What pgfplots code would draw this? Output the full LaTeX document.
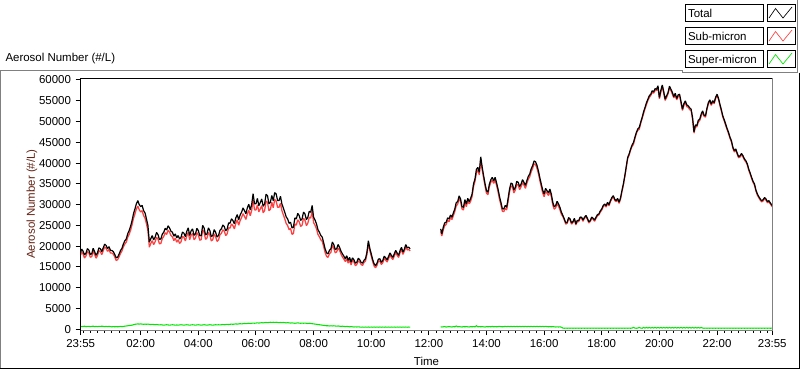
\documentclass[border=0pt]{standalone}
\usepackage{fontspec}
\setmainfont{Liberation Sans}
\usepackage{pgfplots}
\usepackage{pgfplotstable}
\pgfplotsset{compat=1.18}
\definecolor{subred}{RGB}{255,64,64}
\definecolor{supgreen}{RGB}{0,230,0}
\definecolor{labbrown}{RGB}{100,35,20}
\definecolor{framegray}{RGB}{128,128,128}

\pgfplotstableread{
t tot sub sup
-0.083 18560 17860 700
-0.05 19300 18650 650
0.00 18800 18100 700
0.05 17900 17150 750
0.10 18300 17650 650
0.15 19400 18700 700
0.20 19100 18400 700
0.25 18000 17350 650
0.30 18160 17460 700
0.35 19500 18750 750
0.40 18700 18050 650
0.45 17800 17100 700
0.50 18400 17750 650
0.55 19600 18900 700
0.60 19360 18660 700
0.65 18700 17950 750
0.70 19600 18900 700
0.75 20500 19850 650
0.80 20160 19460 700
0.85 19400 18750 650
0.90 19900 19200 700
0.95 19000 18350 650
1.00 18960 18360 600
1.05 18700 18050 650
1.10 18000 17400 600
1.15 17200 16550 650
1.20 17360 16760 600
1.25 18100 17450 650
1.30 18960 18260 700
1.35 19500 18850 650
1.40 20560 19860 700
1.45 21300 20550 750
1.50 21760 20960 800
1.55 23000 22150 850
1.60 23760 22860 900
1.65 24800 23850 950
1.70 26160 25160 1000
1.75 27800 26700 1100
1.80 28960 27760 1200
1.85 30200 28950 1250
1.90 30960 29660 1300
1.95 30000 28750 1250
2.00 29520 28220 1300
2.05 29800 28550 1250
2.10 28560 27360 1200
2.15 28000 26750 1250
2.20 26560 25360 1200
2.25 25000 23750 1250
2.30 20960 19760 1200
2.35 21800 20650 1150
2.40 22560 21360 1200
2.45 21500 20350 1150
2.50 22160 21060 1100
2.55 23300 22150 1150
2.60 22800 21700 1100
2.65 21600 20550 1050
2.70 21760 20660 1100
2.75 22900 21850 1050
2.80 23360 22360 1000
2.85 24300 23250 1050
2.90 23920 22820 1100
2.95 24900 23850 1050
3.00 24400 23400 1000
3.05 23600 22550 1050
3.10 23360 22260 1100
3.15 22400 21350 1050
3.20 22960 21960 1000
3.25 22000 20950 1050
3.30 22560 21560 1000
3.35 21700 20650 1050
3.40 22160 21060 1100
3.45 23400 22350 1050
3.50 23120 22120 1000
3.55 22300 21250 1050
3.60 23600 22500 1100
3.65 24400 23350 1050
3.70 22560 21560 1000
3.75 23700 22650 1050
3.80 24160 23060 1100
3.85 22600 21550 1050
3.90 22960 21960 1000
3.95 24300 23250 1050
4.00 23760 22660 1100
4.05 22500 21450 1050
4.10 22560 21560 1000
4.15 25000 23950 1050
4.20 24400 23300 1100
4.25 22700 21650 1050
4.30 22960 21960 1000
4.35 24400 23350 1050
4.40 23760 22660 1100
4.45 22300 21250 1050
4.50 22560 21560 1000
4.55 24000 22950 1050
4.60 23360 22260 1100
4.65 22200 21150 1050
4.70 22560 21460 1100
4.75 23800 22750 1050
4.80 24160 23060 1100
4.85 25100 23950 1150
4.90 24720 23620 1100
4.95 23700 22550 1150
5.00 24160 22960 1200
5.05 25600 24450 1150
5.10 25520 24320 1200
5.15 26600 25350 1250
5.20 26160 24960 1200
5.25 25400 24150 1250
5.30 26800 25500 1300
5.35 27600 26350 1250
5.40 26320 25020 1300
5.45 27500 26150 1350
5.50 28160 26860 1300
5.55 29200 27850 1350
5.60 28560 27160 1400
5.65 27800 26450 1350
5.70 29200 27800 1400
5.75 30100 28650 1450
5.80 28720 27320 1400
5.85 30000 28550 1450
5.90 32600 31100 1500
5.95 30200 28750 1450
6.00 30200 28700 1500
6.05 31500 29950 1550
6.10 29760 28260 1500
6.15 30500 28950 1550
6.20 31360 29760 1600
6.25 29600 28050 1550
6.30 30160 28560 1600
6.35 32500 30850 1650
6.40 32160 30560 1600
6.45 30200 28550 1650
6.50 30560 28860 1700
6.55 32200 30550 1650
6.60 30960 29260 1700
6.65 32900 31250 1650
6.70 32560 30860 1700
6.75 31000 29350 1650
6.80 30960 29360 1600
6.85 32000 30350 1650
6.90 30160 28560 1600
6.95 29200 27550 1650
7.00 28160 26560 1600
7.05 27000 25450 1550
7.10 26560 24960 1600
7.15 25500 23950 1550
7.20 25760 24260 1500
7.25 24400 22850 1550
7.30 24560 23060 1500
7.35 26800 25350 1450
7.40 26560 25060 1500
7.45 27900 26350 1550
7.50 27360 25860 1500
7.55 26200 24750 1450
7.60 26560 25060 1500
7.65 28200 26750 1450
7.70 27760 26260 1500
7.75 26400 24950 1450
7.80 26960 25560 1400
7.85 28400 26950 1450
7.90 28160 26760 1400
7.95 29800 28450 1350
8.00 26960 25660 1300
8.05 26300 25050 1250
8.10 25360 24160 1200
8.15 24000 22850 1150
8.20 23360 22260 1100
8.25 22600 21550 1050
8.30 22160 21160 1000
8.35 20800 19850 950
8.40 19360 18460 900
8.45 18400 17550 850
8.50 18160 17310 850
8.55 19000 18200 800
8.60 19360 18510 850
8.65 21000 20200 800
8.70 20400 19550 850
8.75 19200 18400 800
8.80 19360 18610 750
8.85 20400 19600 800
8.90 19760 19010 750
8.95 18800 18100 700
9.00 18160 17410 750
9.05 17600 16900 700
9.10 16960 16310 650
9.15 17700 17000 700
9.20 16560 15910 650
9.25 17300 16700 600
9.30 16160 15510 650
9.35 17200 16600 600
9.40 16720 16170 550
9.45 15900 15300 600
9.50 16160 15610 550
9.55 17100 16500 600
9.60 16720 16170 550
9.65 16100 15600 500
9.70 15920 15370 550
9.75 16600 16100 500
9.80 16960 16410 550
9.85 18500 18000 500
9.90 21300 20750 550
9.95 19500 19000 500
10.00 18160 17610 550
10.05 16800 16300 500
10.10 15760 15210 550
10.15 15300 14800 500
10.20 15920 15370 550
10.25 16900 16400 500
10.30 16960 16410 550
10.35 16100 15600 500
10.40 16560 16010 550
10.45 17600 17100 500
10.50 17200 16650 550
10.55 16700 16200 500
10.60 17520 16970 550
10.65 18400 17900 500
10.70 17760 17210 550
10.75 17300 16800 500
10.80 18160 17610 550
10.85 19000 18500 500
10.90 18320 17770 550
10.95 17800 17300 500
11.00 18960 18410 550
11.05 19700 19200 500
11.10 18560 18010 550
11.15 19300 18800 500
11.20 20400 19850 550
11.25 19600 19100 500
11.30 19760 19210 550
11.35 19360 18860 500
11.40 nan nan nan
12.41 24160 23560 600
12.45 23000 22450 550
12.50 24560 23960 600
12.55 25600 24950 650
12.60 25760 25210 550
12.65 26800 26200 600
12.70 26560 25910 650
12.75 27500 26900 600
12.80 26960 26410 550
12.85 28000 27350 650
12.90 28960 28360 600
12.95 30500 29700 800
13.00 30720 30120 600
13.05 32100 31450 650
13.10 31360 30760 600
13.15 29500 28950 550
13.20 29360 28710 650
13.25 31200 30600 600
13.30 30160 29510 650
13.35 31500 30900 600
13.40 30720 30170 550
13.45 31500 30850 650
13.50 32560 31960 600
13.55 35000 34350 650
13.60 36160 35560 600
13.65 38500 37650 850
13.70 38960 38360 600
13.75 37800 37150 650
13.80 41500 40900 600
13.85 39000 38350 650
13.90 36960 36360 600
13.95 35000 34450 550
14.00 33360 32710 650
14.05 33000 32400 600
14.10 34960 34310 650
14.15 36000 35400 600
14.20 36560 35860 700
14.25 35700 35100 600
14.30 36560 35910 650
14.35 35200 34600 600
14.40 33760 33110 650
14.45 32000 31300 700
14.50 30560 29910 650
14.55 29000 28400 600
14.60 28960 28310 650
14.65 29800 29100 700
14.70 29360 28710 650
14.75 31500 30800 700
14.80 33760 33110 650
14.85 35200 34500 700
14.90 34960 34310 650
14.95 33500 32800 700
15.00 34160 33510 650
15.05 35600 34900 700
15.10 35360 34710 650
15.15 34300 33600 700
15.20 34960 34310 650
15.25 36000 35300 700
15.30 35360 34710 650
15.35 34600 33900 700
15.40 35760 35110 650
15.45 36800 36100 700
15.50 37360 36710 650
15.55 38600 37900 700
15.60 39360 38710 650
15.65 40500 39800 700
15.70 40320 39670 650
15.75 39500 38800 700
15.80 38160 37510 650
15.85 36500 35800 700
15.90 34960 34310 650
15.95 33500 32800 700
16.00 32560 31910 650
16.05 33900 33200 700
16.10 33360 32710 650
16.15 32800 32200 600
16.20 33760 33110 650
16.25 32500 31900 600
16.30 30560 29910 650
16.35 29500 28900 600
16.40 29760 29210 550
16.45 30800 30200 600
16.50 30160 29610 550
16.55 29300 28700 600
16.60 28160 27660 500
16.65 27400 27100 300
16.70 26560 26310 250
16.75 25600 25300 300
16.80 25760 25510 250
16.85 26900 26600 300
16.90 26560 26310 250
16.95 25600 25300 300
17.00 25920 25670 250
17.05 26700 26400 300
17.10 25360 25110 250
17.15 26200 25900 300
17.20 26160 25910 250
17.25 27000 26700 300
17.30 26960 26710 250
17.35 26300 26000 300
17.40 26960 26710 250
17.45 27400 27100 300
17.50 26720 26470 250
17.55 25900 25600 300
17.60 26160 25910 250
17.65 27000 26700 300
17.70 26720 26470 250
17.75 26300 26000 300
17.80 26960 26710 250
17.85 27600 27300 300
17.90 27760 27510 250
17.95 28500 28200 300
18.00 28960 28710 250
18.05 29800 29500 300
18.10 30160 29910 250
18.15 29700 29400 300
18.20 30560 30310 250
18.25 30000 29700 300
18.30 30960 30710 250
18.35 31700 31400 300
18.40 32160 31910 250
18.45 31300 31000 300
18.50 30960 30710 250
18.55 31500 31200 300
18.60 30560 30310 250
18.65 31600 31300 300
18.70 33360 33110 250
18.75 35000 34700 300
18.80 36960 36710 250
18.85 39200 38900 300
18.90 41360 41110 250
18.95 42200 41900 300
19.00 43360 43110 250
19.05 44300 44000 300
19.10 44960 44510 450
19.15 46200 45900 300
19.20 47360 47110 250
19.25 48200 47900 300
19.30 48560 48110 450
19.35 49800 49500 300
19.40 50960 50710 250
19.45 52300 51850 450
19.50 53360 53060 300
19.55 54500 54050 450
19.60 55360 55060 300
19.65 56200 55750 450
19.70 56560 56260 300
19.75 57400 56950 450
19.80 57120 56820 300
19.85 57900 57450 450
19.90 57760 57460 300
19.95 58600 58150 450
20.00 55760 55460 300
20.05 57500 57050 450
20.10 58800 58500 300
20.15 57200 56750 450
20.20 55360 55060 300
20.25 56200 55750 450
20.30 56960 56660 300
20.35 58500 58050 450
20.40 57760 57460 300
20.45 57000 56550 450
20.50 56000 55700 300
20.55 56800 56350 450
20.60 55520 55220 300
20.65 56400 55950 450
20.70 56560 56260 300
20.75 54800 54350 450
20.80 52960 52660 300
20.85 54300 53850 450
20.90 54960 54660 300
20.95 54000 53550 450
21.00 53760 53460 300
21.05 53300 52850 450
21.10 52960 52660 300
21.15 51000 50550 450
21.20 47500 47200 300
21.25 49200 48750 450
21.30 49000 48700 300
21.35 50300 49850 450
21.40 50560 50260 300
21.45 51800 51350 450
21.50 52560 52260 300
21.55 51500 51250 250
21.60 51360 51060 300
21.65 53200 52950 250
21.70 54560 54260 300
21.75 55200 54950 250
21.80 54160 53860 300
21.85 55000 54750 250
21.90 54560 54260 300
21.95 55800 55550 250
22.00 56560 56260 300
22.05 55600 55350 250
22.10 54160 53860 300
22.15 52800 52550 250
22.20 51360 51060 300
22.25 50400 50150 250
22.30 49360 49060 300
22.35 48300 48050 250
22.40 47360 47060 300
22.45 46200 45950 250
22.50 45360 45060 300
22.55 43800 43550 250
22.60 42960 42660 300
22.65 43400 43150 250
22.70 42400 42100 300
22.75 41500 41250 250
22.80 41760 41460 300
22.85 42300 42050 250
22.90 41760 41460 300
22.95 41000 40750 250
23.00 40560 40260 300
23.05 39800 39550 250
23.10 38560 38260 300
23.15 37600 37350 250
23.20 36560 36260 300
23.25 35600 35350 250
23.30 34960 34660 300
23.35 33500 33250 250
23.40 32560 32260 300
23.45 31900 31650 250
23.50 31360 31060 300
23.55 30900 30650 250
23.60 31200 30900 300
23.65 31700 31450 250
23.70 31360 31060 300
23.75 30700 30450 250
23.80 30960 30660 300
23.85 30400 30150 250
23.916 29760 29460 300
}\aerosol

\begin{document}
\begin{tikzpicture}[font=\fontsize{8.6}{10}\selectfont]
\path[use as bounding box] (0,0) rectangle (600pt,-276.75pt);
\begin{axis}[
  at={(60.5pt,-247.5pt)}, anchor=south west,
  scale only axis, width=518.7pt, height=188.8pt,
  xmin=-0.08333, xmax=23.91667, ymin=-170, ymax=60400,
  axis line style={draw=none},
  clip mode=individual,
  unbounded coords=jump,
  xtick={-0.08333,2,4,6,8,10,12,14,16,18,20,22,23.91667},
  xticklabels={23:55,02:00,04:00,06:00,08:00,10:00,12:00,14:00,16:00,18:00,20:00,22:00,23:55},
  minor xtick={0,0.25,...,23.75},
  ytick={0,5000,...,60000},
  scaled y ticks=false,
  yticklabel style={/pgf/number format/1000 sep={}},
  /pgf/number format/assume math mode=true,
  tick align=outside, tick pos=left,
  major tick length=3.75pt, minor tick length=2pt,
  every tick/.style={black, line width=0.75pt},
  xlabel={Time},
  ylabel={Aerosol Number (\#/L)},
  xlabel style={at={(axis description cs:0.5,-0.123)}, anchor=center},
  ylabel style={at={(axis description cs:-0.0704,0.5)}, anchor=center, text=labbrown},
]
\addplot[subred, line width=0.95pt, line join=bevel] table[x=t, y=sub] {\aerosol};
\addplot[black, line width=0.9pt, line join=bevel] table[x=t, y=tot] {\aerosol};
\addplot[supgreen, line width=0.8pt] table[x=t, y=sup] {\aerosol};
\draw[black, line width=0.75pt] (rel axis cs:0,0) -- (rel axis cs:0,1) -- (rel axis cs:1,1);
\draw[framegray, line width=0.75pt] (rel axis cs:1,1) -- (rel axis cs:1,0) -- (rel axis cs:0,0);
\end{axis}
\begin{scope}[x=0.75pt, y=-0.75pt, line width=0.75pt]
  % panel frame
  \draw[framegray] (0.5,368) -- (0.5,70.5) -- (682,70.5) -- (682,72.5) -- (797.5,72.5);
  \draw[framegray] (797.5,0) -- (797.5,72.5);
  \draw[black] (0,368) -- (800,368);
  \draw[black] (799.5,72.5) -- (799.5,369);
  % title
  \node[anchor=base west, inner sep=0] at (5,61) {Aerosol Number (\#/L)};
  % legend
  \foreach \yy/\name/\col in {0/Total/black, 23/Sub-micron/subred, 46/Super-micron/supgreen} {
    \draw[black] (685.5,4.5+\yy) rectangle (763,21.5+\yy);
    \node[anchor=base west, inner sep=0] at (687.5,17.5+\yy) {\name};
    \draw[black] (767.5,4.5+\yy) rectangle (795,21.5+\yy);
    \draw[\col, line width=0.5pt] (769,18+\yy) -- (775.5,8.5+\yy) -- (783,18+\yy) -- (792,7+\yy);
  }
\end{scope}
\end{tikzpicture}
\end{document}
